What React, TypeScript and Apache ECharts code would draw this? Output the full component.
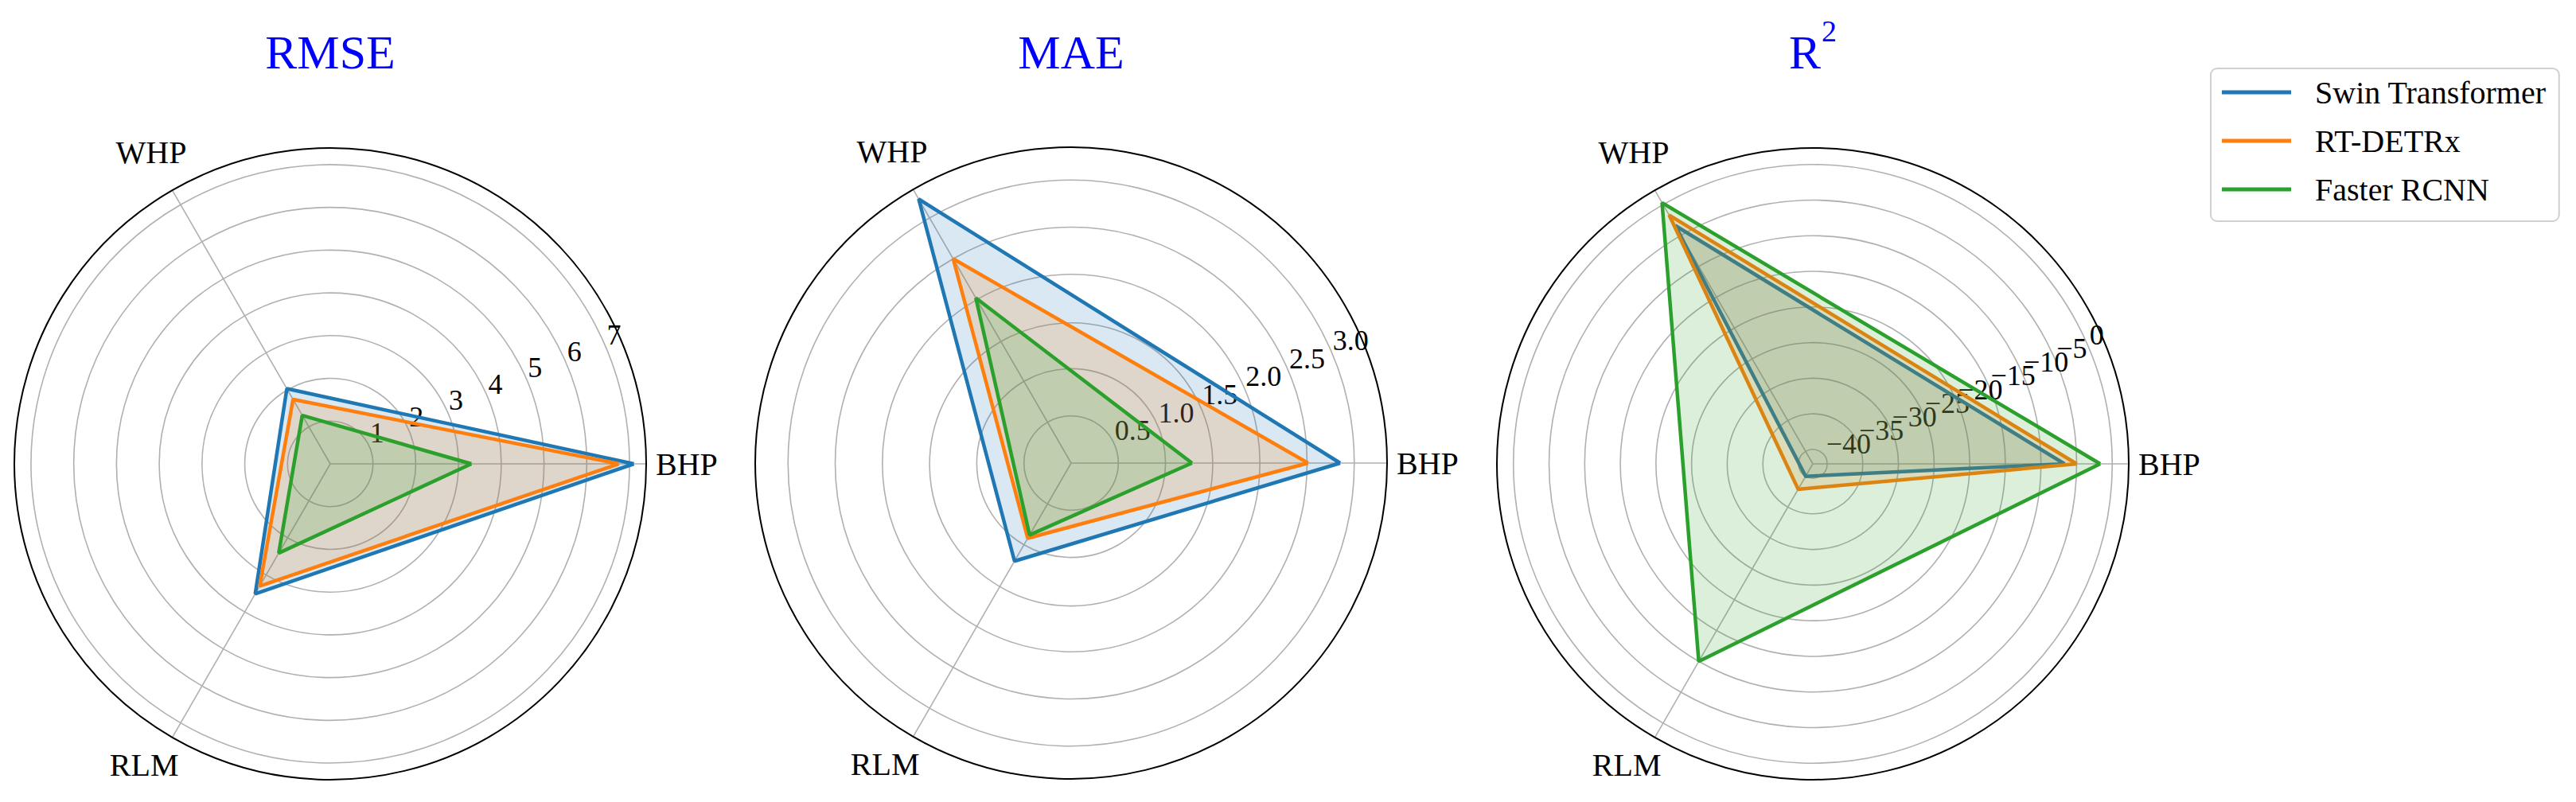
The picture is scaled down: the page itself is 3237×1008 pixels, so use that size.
import React, { useEffect, useRef } from 'react';
import * as echarts from 'echarts';

// ---------- data ----------
const categories = ['BHP', 'WHP', 'RLM'];
const categoryAngles = [0, 120, 240];
const modelNames = ['Swin Transformer', 'RT-DETRx', 'Faster RCNN'];
const modelColors = ['#1f77b4', '#ff7f0e', '#2ca02c'];

// RMSE (BHP, WHP, RLM)
const rmseSwin = [7.1, 2.03, 3.51];
const rmseRtdetr = [6.75, 1.74, 3.3];
const rmseFaster = [3.3, 1.31, 2.41];
// MAE
const maeSwin = [2.85, 3.23, 1.2];
const maeRtdetr = [2.51, 2.5, 0.92];
const maeFaster = [1.28, 2.02, 0.88];
// R^2
const r2Swin = [-6.7, -3.4, -40.0];
const r2Rtdetr = [-5.0, -1.7, -37.9];
const r2Faster = [-1.7, 0.3, -10.0];

// radial tick labels
const rmseTicks = [1, 2, 3, 4, 5, 6, 7];
const maeTicks = [0.5, 1.0, 1.5, 2.0, 2.5, 3.0];
const r2Ticks = [-40, -35, -30, -25, -20, -15, -10, -5, 0];

const titles = ['RMSE', 'MAE', 'R'];

// ---------- layout ----------
const W = 3237;
const H = 1008;
const centers: [number, number][] = [
  [415, 583],
  [1346, 582],
  [2278, 583],
];
const RADIUS = 397;
const FONT = 'Liberation Serif';
const GRID = '#b0b0b0';

const panels = [
  { series: [rmseSwin, rmseRtdetr, rmseFaster], ticks: rmseTicks, decimals: 0 },
  { series: [maeSwin, maeRtdetr, maeFaster], ticks: maeTicks, decimals: 1 },
  { series: [r2Swin, r2Rtdetr, r2Faster], ticks: r2Ticks, decimals: 0 },
];

function radialLimits(all: number[]) {
  const m = Math.min(...all);
  const M = Math.max(...all);
  const span = M - m;
  return [Math.min(0, m - 0.05 * span), M + 0.05 * span];
}

function fmt(v: number, decimals: number) {
  const s = Math.abs(v).toFixed(decimals);
  return v < 0 && Math.abs(v) > 1e-9 ? '\u2212' + s : s;
}

function buildOption() {
  const polar: any[] = [];
  const angleAxis: any[] = [];
  const radiusAxis: any[] = [];
  const series: any[] = [];

  panels.forEach((p, i) => {
    const all = ([] as number[]).concat(...p.series);
    const [rmin, rmax] = radialLimits(all);
    const step = p.ticks[1] - p.ticks[0];
    const below = p.ticks[0] - step;
    const ringMin = below >= rmin - 1e-9 ? below : p.ticks[0];
    const ringMax = p.ticks[p.ticks.length - 1];
    const rOf = (v: number) => (RADIUS * (v - rmin)) / (rmax - rmin);
    const c = centers[i];
    const base = polar.length;

    // 0: data polar
    polar.push({ center: c, radius: RADIUS });
    angleAxis.push({
      polarIndex: base,
      type: 'value',
      min: 0,
      max: 360,
      interval: 120,
      startAngle: 0,
      clockwise: false,
      axisLine: { show: true, lineStyle: { color: '#000', width: 2 } },
      axisTick: { show: false },
      splitLine: { show: true, lineStyle: { color: GRID, width: 1.6 } },
      axisLabel: {
        show: true,
        margin: 12,
        color: '#000',
        fontSize: 40,
        fontFamily: FONT,
        formatter: (v: number) => {
          const k = categoryAngles.indexOf(v);
          if (k < 0) return '';
          return '{c' + k + '|' + categories[k] + '}';
        },
        rich: {
          c0: { fontSize: 40, fontFamily: FONT, color: '#000', padding: [0, 0, 0, 0] },
          c1: { fontSize: 40, fontFamily: FONT, color: '#000', padding: [0, -24, 17, 0] },
          c2: { fontSize: 40, fontFamily: FONT, color: '#000', padding: [4, -14, 0, 0] },
        },
      },
    });
    radiusAxis.push({ polarIndex: base, type: 'value', min: rmin, max: rmax, show: false });

    // 1: ring polar (grid circles)
    polar.push({ center: c, radius: [rOf(ringMin), rOf(ringMax)] });
    angleAxis.push({
      polarIndex: base + 1,
      type: 'value',
      min: 0,
      max: 360,
      startAngle: 0,
      clockwise: false,
      show: false,
    });
    radiusAxis.push({
      polarIndex: base + 1,
      type: 'value',
      min: ringMin,
      max: ringMax,
      interval: step,
      axisLine: { show: false },
      axisTick: { show: false },
      axisLabel: { show: false },
      splitLine: { show: true, lineStyle: { color: GRID, width: 1.6 } },
    });

    // 2,3: label polars (alternate ticks so that no label is dropped)
    [0, 1].forEach((parity) => {
      const ticks = p.ticks.filter((_, k) => k % 2 === parity);
      if (ticks.length === 0) return;
      const lo = ticks[0];
      const hi = ticks[ticks.length - 1];
      const idx = polar.length;
      polar.push({ center: c, radius: [rOf(lo), rOf(hi)] });
      angleAxis.push({
        polarIndex: idx,
        type: 'value',
        min: 0,
        max: 360,
        startAngle: 22.5,
        clockwise: false,
        show: false,
      });
      radiusAxis.push({
        polarIndex: idx,
        type: 'value',
        min: lo,
        max: hi === lo ? lo + step : hi,
        interval: step * 2,
        axisLine: { show: false },
        axisTick: { show: false },
        splitLine: { show: false },
        axisLabel: {
          show: true,
          margin: 0,
          align: 'left',
          verticalAlign: 'bottom',
          fontSize: 36,
          fontFamily: FONT,
          color: '#000',
          showMinLabel: true,
          showMaxLabel: hi !== lo,
          hideOverlap: false,
          formatter: (v: number) => fmt(v, p.decimals),
        },
      });
    });

    p.series.forEach((vals, s) => {
      const data = vals.map((v, k) => [v, categoryAngles[k]]);
      data.push([vals[0], 360]);
      series.push({
        type: 'line',
        name: modelNames[s],
        coordinateSystem: 'polar',
        polarIndex: base,
        data,
        symbol: 'none',
        smooth: false,
        silent: true,
        color: modelColors[s],
        itemStyle: { color: modelColors[s] },
        lineStyle: { color: modelColors[s], width: 4.5 },
        areaStyle: { color: modelColors[s], opacity: 0.17, origin: 'start' },
        z: 2 + s,
      });
    });
  });

  const graphic: any[] = [];
  titles.forEach((t, i) => {
    if (i < 2) {
      graphic.push({
        type: 'text',
        x: centers[i][0],
        y: 66,
        style: {
          text: t,
          fill: '#0000ff',
          fontSize: 60,
          fontFamily: FONT,
          align: 'center',
          verticalAlign: 'middle',
        },
      });
    } else {
      graphic.push({
        type: 'text',
        x: centers[i][0] + 10,
        y: 66,
        style: {
          text: t,
          fill: '#0000ff',
          fontSize: 60,
          fontFamily: FONT,
          align: 'right',
          verticalAlign: 'middle',
        },
      });
      graphic.push({
        type: 'text',
        x: centers[i][0] + 11,
        y: 39,
        style: {
          text: '2',
          fill: '#0000ff',
          fontSize: 38,
          fontFamily: FONT,
          align: 'left',
          verticalAlign: 'middle',
        },
      });
    }
  });

  return {
    animation: false,
    backgroundColor: '#ffffff',
    textStyle: { fontFamily: FONT },
    polar,
    angleAxis,
    radiusAxis,
    series,
    graphic,
    legend: {
      orient: 'vertical',
      left: 2778,
      top: 86,
      data: modelNames,
      icon: 'rect',
      itemWidth: 87,
      itemHeight: 5,
      itemGap: 17,
      padding: [8, 16, 18, 14],
      backgroundColor: '#ffffff',
      borderColor: '#d0d0d0',
      borderWidth: 2,
      borderRadius: 8,
      selectedMode: false,
      textStyle: {
        fontSize: 40,
        fontFamily: FONT,
        color: '#000',
        lineHeight: 44,
        padding: [0, 0, 0, 25],
      },
    },
  };
}

export default function App() {
  const ref = useRef<HTMLDivElement>(null);
  useEffect(() => {
    if (!ref.current) return;
    const chart = echarts.init(ref.current, undefined, { renderer: 'svg' });
    chart.setOption(buildOption() as any);
    return () => chart.dispose();
  }, []);
  return (
    <div
      ref={ref}
      style={{ position: 'fixed', left: 0, top: 0, width: W + 'px', height: H + 'px', background: '#fff' }}
    />
  );
}
